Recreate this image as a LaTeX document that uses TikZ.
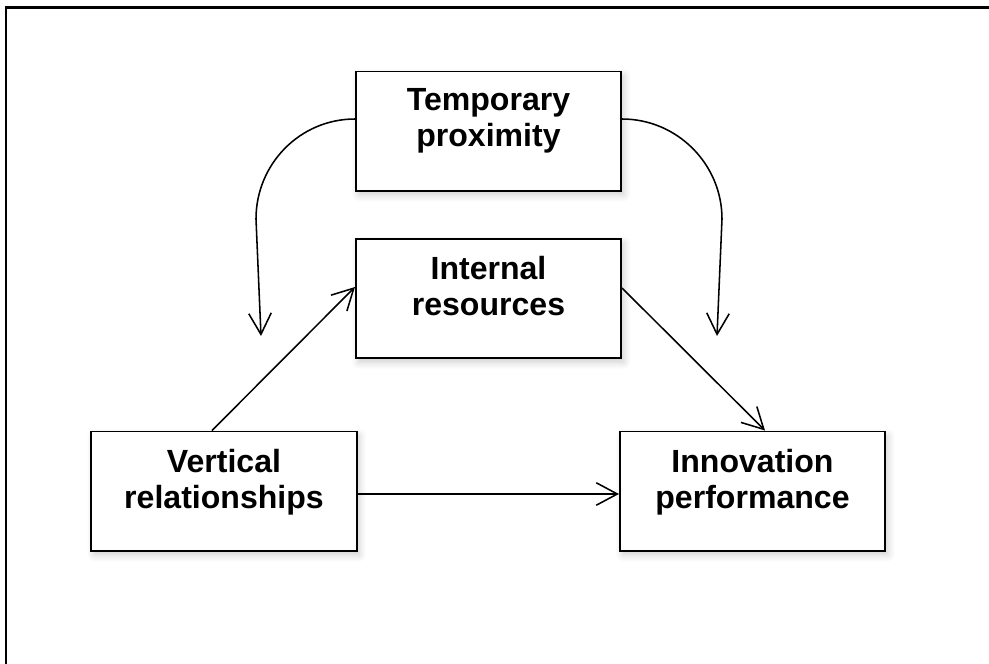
\documentclass[tikz,border=0pt]{standalone}
\usepackage{fontspec}
\setmainfont{Liberation Sans}
\usetikzlibrary{arrows.meta,calc,shadows.blur}

\begin{document}
\begin{tikzpicture}[x=0.025cm,y=-0.025cm,
  factor/.style={draw,line width=1.4pt,fill=white,minimum width=6.625cm,minimum height=2.975cm,
    blur shadow={shadow xshift=2pt,shadow yshift=-3pt,shadow blur radius=5pt,shadow blur steps=8,shadow opacity=20}},
  factorlabel/.style={anchor=north,yshift=-0.45cm,inner sep=0pt,align=center,
    font=\fontsize{22.8}{25.6}\selectfont\bfseries},
  link/.style={line width=1.1pt,-{Straight Barb[length=15pt,width=16pt]}}]
\useasboundingbox (0,0) rectangle (989,664);

% Frame
\draw[line width=1.5pt] (6,664) -- (6,7.5) -- (989,7.5);

% Factors
\node[factor,label={[factorlabel]north:Temporary\\proximity}] (temp) at (488.5,131) {};
\node[factor,label={[factorlabel]north:Internal\\resources}] (internal) at (488.5,298.5) {};
\node[factor,label={[factorlabel]north:Vertical\\relationships}] (vertical) at (224,491) {};
\node[factor,label={[factorlabel]north:Innovation\\performance}] (innov) at (752.5,491) {};

% Moderating effect
\coordinate (vtarget) at (261,336);
\coordinate (itarget) at (717,336);
\draw[link] ($(temp.west)+(0,-12)$) .. controls +(-55,0) and +(0,-55) .. (256,219) -- (vtarget);
\draw[link] ($(temp.east)+(0,-12)$) .. controls +(55,0) and +(0,-55) .. (722,219) -- (itarget);

% Paths
\draw[link] ($(vertical.north)+(-12,0)$) -- ($(internal.west)+(0,-11.5)$);
\draw[link] ($(internal.east)+(0,-10.5)$) -- ($(innov.north)+(12.5,0)$);
\draw[link] ($(vertical.east)+(0,3)$) -- ($(innov.west)+(0,3)$);

\end{tikzpicture}
\end{document}
